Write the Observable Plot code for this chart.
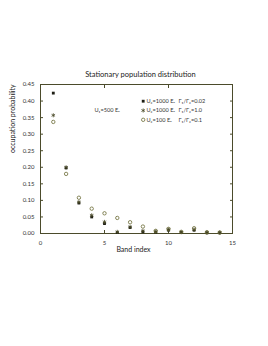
<!DOCTYPE html>
<html><head><meta charset="utf-8">
<script src="https://cdn.jsdelivr.net/npm/d3@7"></script>
<script src="https://cdn.jsdelivr.net/npm/@observablehq/plot@0.6"></script>
<style>body{margin:0;background:#fff} #chart svg{font-family:Lato,"Open Sans",sans-serif;background:#fff}</style>
</head><body><div id="chart"></div>
<script>
const bands = [1,2,3,4,5,6,7,8,9,10,11,12,13,14];
const seriesNames = ["U₂=1000 Eₛ", "U₂=1000 Eₛ", "U₂=100 Eₛ"];
const ratioNames = ["Γ₁/Γ₂=0.02", "Γ₁/Γ₂=1.0", "Γ₁/Γ₂=0.1"];
const squareVals = [0.424,0.198,0.092,0.050,0.030,0.003,0.018,0.005,0.004,0.010,0.003,0.010,0.002,0.002];
const starVals   = [0.357,0.200,0.095,0.055,0.035,0.005,0.020,0.008,0.006,0.012,0.004,0.012,0.003,0.003];
const circleVals = [0.337,0.180,0.108,0.075,0.061,0.047,0.034,0.021,0.008,0.014,0.005,0.016,0.004,0.003];
const yTicks = [0,0.05,0.10,0.15,0.20,0.25,0.30,0.35,0.40,0.45];
const xTicks = [0,5,10,15];
const titleText = "Stationary population distribution";
const xLabel = "Band index";
const yLabel = "occupation probability";
const u1Text = "U₁=500 Eₛ";

const frameColor = "#4b4b2b";
const styles = [
  {symbol: "square", fill: "#1e1e14", stroke: "none", r: 1.6},
  {symbol: "asterisk", fill: "none", stroke: "#4a4a28", r: 1.9},
  {symbol: "circle", fill: "none", stroke: "#6a6a34", r: 1.7}
];
const seriesVals = [squareVals, starVals, circleVals];

const rows = (vals) => bands.map((b, i) => ({band: b, p: vals[i]}));
const noText = () => "";

const marks = [];
// tick labels
marks.push(Plot.axisY(yTicks, {anchor: "left", tickSize: 0, tickPadding: 6, tickFormat: d3.format(".2f"), fontSize: 6, fill: "#333", label: null}));
marks.push(Plot.axisX(xTicks, {anchor: "bottom", tickSize: 0, tickPadding: 7, fontSize: 6, fill: "#333", label: null}));
// inward ticks on all four sides
marks.push(Plot.axisY(yTicks, {anchor: "left", tickSize: -3, tickFormat: noText, stroke: frameColor, label: null}));
marks.push(Plot.axisY(yTicks, {anchor: "right", tickSize: -3, tickFormat: noText, stroke: frameColor, label: null}));
marks.push(Plot.axisX(xTicks, {anchor: "bottom", tickSize: -3, tickFormat: noText, stroke: frameColor, label: null}));
marks.push(Plot.axisX(xTicks, {anchor: "top", tickSize: -3, tickFormat: noText, stroke: frameColor, label: null}));
marks.push(Plot.frame({stroke: frameColor, strokeWidth: 1}));
// series
seriesVals.forEach((vals, i) => {
  marks.push(Plot.dot(rows(vals), {x: "band", y: "p", ...styles[i], strokeWidth: 0.8}));
});
// legend
seriesVals.forEach((vals, i) => {
  marks.push(Plot.dot([0], {frameAnchor: "top-left", dx: 102.7, dy: 16.7 + 9.3 * i, ...styles[i], strokeWidth: 0.8}));
  marks.push(Plot.text([seriesNames[i]], {frameAnchor: "top-left", dx: 106, dy: 16.7 + 9.3 * i, textAnchor: "start", lineAnchor: "middle", fontSize: 5.6, fill: "#333"}));
  marks.push(Plot.text([ratioNames[i]], {frameAnchor: "top-left", dx: 138, dy: 16.7 + 9.3 * i, textAnchor: "start", lineAnchor: "middle", fontSize: 5.6, fill: "#333"}));
});
marks.push(Plot.text([u1Text], {frameAnchor: "top-left", dx: 54, dy: 26, textAnchor: "start", lineAnchor: "middle", fontSize: 5.6, fill: "#333"}));
marks.push(Plot.text([titleText], {frameAnchor: "top", dx: 4, dy: -10, lineAnchor: "middle", fontSize: 7.5, fill: "#222"}));
marks.push(Plot.text([xLabel], {frameAnchor: "bottom", dx: -3, dy: 16, lineAnchor: "middle", fontSize: 7, fill: "#222"}));
marks.push(Plot.text([yLabel], {frameAnchor: "left", dx: -28, dy: -6, rotate: -90, lineAnchor: "middle", fontSize: 7, fill: "#222"}));

const chart = Plot.plot({
  width: 268, height: 346,
  marginLeft: 40, marginRight: 36, marginTop: 84, marginBottom: 113,
  x: {domain: [0, 15], axis: null},
  y: {domain: [0, 0.45], axis: null},
  marks
});
document.getElementById("chart").appendChild(chart);
</script></body></html>
